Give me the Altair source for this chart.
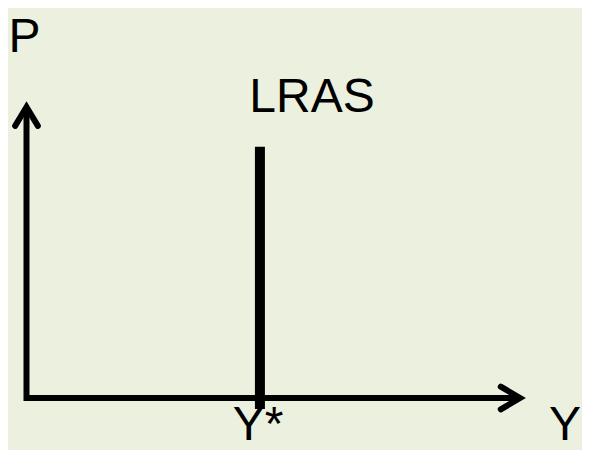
import altair as alt
import pandas as pd

# Diagram geometry in conceptual units (0..100 on each axis)
axis_x = [0, 0, 100]
axis_y = [100, 0, 0]
arrow_v_x = [-2.3, 0, 2.3]
arrow_v_y = [93.5, 100, 93.5]
arrow_h_x = [96.1, 100, 96.1]
arrow_h_y = [3.9, 0, -3.9]
lras_x = [47.3]
lras_y = [-3.8]
lras_y2 = [86.3]
label_text = ["P", "LRAS", "Y*", "Y"]
label_x = [-3.65, 57.85, 41.8, 105.9]
label_y = [118.9, 98.3, -14.3, -14.3]
label_align = ["left", "center", "left", "left"]

BG = "#EBF1DE"
FONT = "Liberation Sans"

xs = alt.Scale(domain=[0, 100], range=[18.5, 512], nice=False, zero=False)
ys = alt.Scale(domain=[0, 100], range=[390, 99], nice=False, zero=False)

axes_df = pd.DataFrame({"x": axis_x, "y": axis_y, "o": range(3)})
heads_df = pd.DataFrame({
    "x": arrow_v_x + arrow_h_x,
    "y": arrow_v_y + arrow_h_y,
    "g": ["v"] * 3 + ["h"] * 3,
    "o": list(range(3)) * 2,
})
lras_df = pd.DataFrame({"x": lras_x, "y": lras_y, "y2": lras_y2})
lab_df = pd.DataFrame({"t": label_text, "x": label_x, "y": label_y, "a": label_align})

X = alt.X("x:Q", scale=xs, axis=None)
Y = alt.Y("y:Q", scale=ys, axis=None)

axes = alt.Chart(axes_df).mark_line(
    color="black", strokeWidth=6, strokeJoin="miter", strokeCap="butt"
).encode(x=X, y=Y, order="o:Q")

heads = alt.Chart(heads_df).mark_line(
    color="black", strokeWidth=6, strokeJoin="miter", strokeCap="round"
).encode(x=X, y=Y, detail="g:N", order="o:Q")

lras = alt.Chart(lras_df).mark_rule(color="black", strokeWidth=10).encode(
    x=X, y=Y, y2="y2:Q"
)

left_labels = alt.Chart(lab_df[lab_df.a == "left"]).mark_text(
    align="left", baseline="alphabetic", fontSize=48, font=FONT, color="black"
).encode(x=X, y=Y, text="t:N")

center_labels = alt.Chart(lab_df[lab_df.a == "center"]).mark_text(
    align="center", baseline="alphabetic", fontSize=48, font=FONT, color="black"
).encode(x=X, y=Y, text="t:N")

chart = alt.layer(axes, heads, lras, left_labels, center_labels).properties(
    width=574, height=442, background=BG, padding=0,
    autosize=alt.AutoSizeParams(type="none"),
).configure_view(strokeWidth=0)

chart.save("out.html", embed_options={"renderer": "svg", "actions": False})
